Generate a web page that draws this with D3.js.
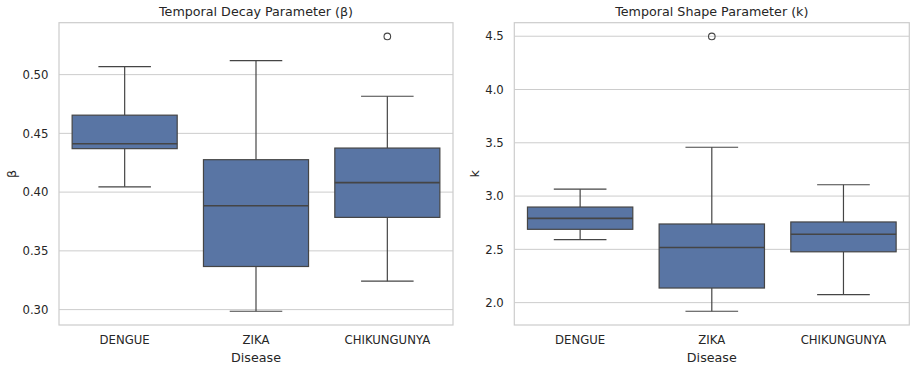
<!DOCTYPE html>
<html>
<head>
<meta charset="utf-8">
<script src="https://cdn.jsdelivr.net/npm/d3@7"></script>
<style>
  body { margin: 0; background: #fff; }
  text { font-family: "DejaVu Sans", sans-serif; fill: #262626; }
</style>
</head>
<body>
<svg id="chart" width="916" height="368"></svg>
<script>
const diseases = ['DENGUE', 'ZIKA', 'CHIKUNGUNYA'];

// box stats: [low whisker, q1, median, q3, high whisker]
const betaStats = [
    [0.4045, 0.437, 0.4412, 0.4655, 0.5068],
    [0.2986, 0.3367, 0.3884, 0.4276, 0.5119],
    [0.3242, 0.3785, 0.4081, 0.4375, 0.4816]
];
const betaOutliers = [[], [], [0.5325]];
const betaTicks = [0.30, 0.35, 0.40, 0.45, 0.50];

const kStats = [
    [2.592, 2.688, 2.791, 2.897, 3.065],
    [1.919, 2.137, 2.517, 2.738, 3.458],
    [2.075, 2.477, 2.641, 2.757, 3.106]
];
const kOutliers = [[], [4.498], []];
const kTicks = [2.0, 2.5, 3.0, 3.5, 4.0, 4.5];

const svg = d3.select('#chart');

function drawPanel(opts) {
    const left = opts.left, right = opts.right, top = 22.7, bottom = 325;
    const g = svg.append('g');

    const allVals = opts.stats.flat().concat(opts.outliers.flat());
    const lo = d3.min(allVals), hi = d3.max(allVals);
    const pad = (hi - lo) * 0.05;

    const x = d3.scaleBand().domain(diseases).range([left, right]);
    const y = d3.scaleLinear().domain([lo - pad, hi + pad]).range([bottom, top]);

    // grid
    g.append('g').selectAll('line')
        .data(opts.ticks)
        .join('line')
        .attr('x1', left).attr('x2', right)
        .attr('y1', d => y(d)).attr('y2', d => y(d))
        .attr('stroke', '#cccccc').attr('stroke-width', 1);

    // y axis
    const yAxis = g.append('g')
        .attr('transform', `translate(${left},0)`)
        .call(d3.axisLeft(y).tickValues(opts.ticks).tickSize(0).tickPadding(10.5).tickFormat(opts.fmt));
    yAxis.select('.domain').remove();
    yAxis.selectAll('text').style('font-size', '11.7px').attr('fill', '#262626');

    // x axis
    const xAxis = g.append('g')
        .attr('transform', `translate(0,${bottom})`)
        .call(d3.axisBottom(x).tickSize(0).tickPadding(11));
    xAxis.select('.domain').remove();
    xAxis.selectAll('text').style('font-size', '11.7px').attr('fill', '#262626');

    const bw = x.bandwidth() * 0.8;
    const capW = bw / 2;
    const lineColor = '#454545';

    const boxes = g.append('g').selectAll('g')
        .data(opts.stats.map((s, i) => ({name: diseases[i], s: s, out: opts.outliers[i]})))
        .join('g');

    boxes.each(function(d) {
        const b = d3.select(this);
        const cx = x(d.name) + x.bandwidth() / 2;
        const [wl, q1, med, q3, wh] = d.s;
        b.append('line').attr('x1', cx).attr('x2', cx).attr('y1', y(q3)).attr('y2', y(wh))
            .attr('stroke', lineColor).attr('stroke-width', 1.2);
        b.append('line').attr('x1', cx).attr('x2', cx).attr('y1', y(q1)).attr('y2', y(wl))
            .attr('stroke', lineColor).attr('stroke-width', 1.2);
        b.append('line').attr('x1', cx - capW / 2).attr('x2', cx + capW / 2).attr('y1', y(wh)).attr('y2', y(wh))
            .attr('stroke', lineColor).attr('stroke-width', 1.2);
        b.append('line').attr('x1', cx - capW / 2).attr('x2', cx + capW / 2).attr('y1', y(wl)).attr('y2', y(wl))
            .attr('stroke', lineColor).attr('stroke-width', 1.2);
        b.append('rect')
            .attr('x', cx - bw / 2).attr('width', bw)
            .attr('y', y(q3)).attr('height', y(q1) - y(q3))
            .attr('fill', '#5975a4').attr('stroke', lineColor).attr('stroke-width', 1.2);
        b.append('line').attr('x1', cx - bw / 2).attr('x2', cx + bw / 2).attr('y1', y(med)).attr('y2', y(med))
            .attr('stroke', lineColor).attr('stroke-width', 1.6);
        b.selectAll('circle.out').data(d.out).join('circle')
            .attr('class', 'out')
            .attr('cx', cx).attr('cy', v => y(v)).attr('r', 3.3)
            .attr('fill', 'none').attr('stroke', lineColor).attr('stroke-width', 1.1);
    });

    // frame
    g.append('rect')
        .attr('x', left).attr('y', top)
        .attr('width', right - left).attr('height', bottom - top)
        .attr('fill', 'none').attr('stroke', '#cccccc').attr('stroke-width', 1.2);

    g.append('text')
        .attr('x', (left + right) / 2).attr('y', 16)
        .attr('text-anchor', 'middle')
        .style('font-size', '12.7px')
        .text(opts.title);

    g.append('text')
        .attr('x', (left + right) / 2).attr('y', 362)
        .attr('text-anchor', 'middle')
        .style('font-size', '12.7px')
        .text('Disease');

    g.append('text')
        .attr('transform', `translate(${opts.ylabelX},${(top + bottom) / 2}) rotate(-90)`)
        .attr('text-anchor', 'middle')
        .style('font-size', '12.7px')
        .text(opts.ylabel);
}

drawPanel({
    left: 59, right: 453,
    stats: betaStats, outliers: betaOutliers, ticks: betaTicks,
    fmt: d3.format('.2f'),
    title: 'Temporal Decay Parameter (β)', ylabel: 'β', ylabelX: 16
});

drawPanel({
    left: 514.3, right: 909.3,
    stats: kStats, outliers: kOutliers, ticks: kTicks,
    fmt: d3.format('.1f'),
    title: 'Temporal Shape Parameter (k)', ylabel: 'k', ylabelX: 479
});
</script>
</body>
</html>
